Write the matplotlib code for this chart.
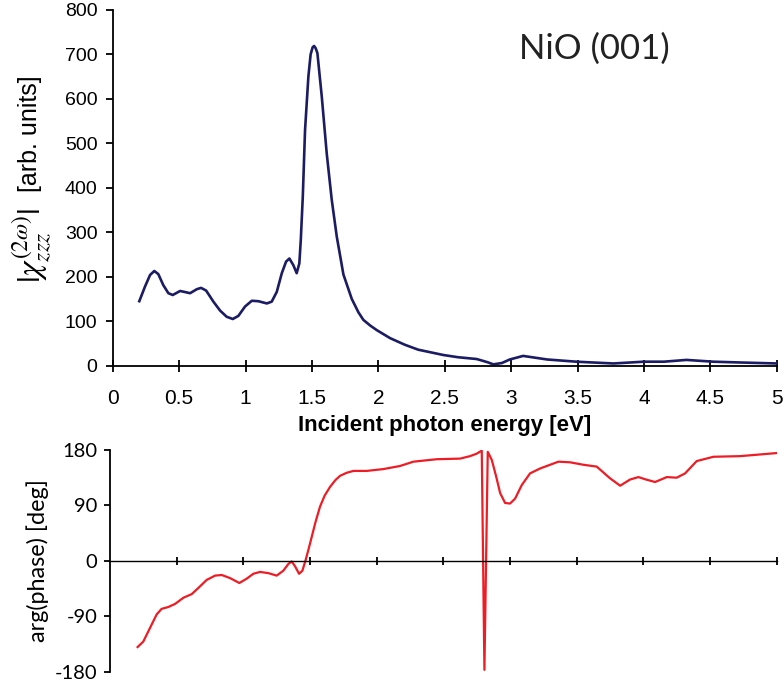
import numpy as np
import matplotlib
matplotlib.use('Agg')
import matplotlib.pyplot as plt

plt.rcParams['font.family'] = ['Liberation Sans', 'DejaVu Sans']
plt.rcParams['mathtext.fontset'] = 'stix'
plt.rcParams['axes.unicode_minus'] = False

# |chi_zzz| spectrum (top panel)
energyTop = [0.20, 0.243, 0.281, 0.313, 0.343, 0.381, 0.419, 0.452, 0.507, 0.539,
             0.582, 0.633, 0.665, 0.703, 0.758, 0.808, 0.858, 0.904, 0.946, 0.996,
             1.047, 1.097, 1.16, 1.197, 1.235, 1.273, 1.305, 1.33, 1.36, 1.385,
             1.405, 1.416, 1.431, 1.448, 1.473, 1.49, 1.505, 1.516, 1.528, 1.541,
             1.574, 1.611, 1.649, 1.687, 1.737, 1.80, 1.85, 1.887, 1.94, 1.988,
             2.088, 2.2, 2.3, 2.49, 2.6, 2.74, 2.82, 2.866, 2.93, 2.99,
             3.09, 3.18, 3.27, 3.49, 3.77, 4.0, 4.15, 4.32, 4.52, 4.75, 5.0]
chiAbs = [145, 178, 204, 213, 206, 181, 163, 159, 168, 166,
          163, 172, 175, 169, 144, 124, 110, 105, 112, 133,
          146, 145, 140, 144, 166, 208, 234, 241, 226, 208,
          230, 283, 380, 530, 650, 700, 716, 719, 714, 703,
          605, 478, 373, 290, 205, 150, 120, 103, 90, 80,
          62, 47, 36, 24, 19, 15, 8, 3, 6, 14,
          22, 18, 14, 9, 5, 9, 9, 13, 9, 7, 5]

# phase spectrum (bottom panel)
energyBot = [0.207, 0.25, 0.30, 0.35, 0.387, 0.437, 0.488, 0.55, 0.613, 0.663,
             0.725, 0.788, 0.838, 0.90, 0.97, 1.025, 1.075, 1.125, 1.188, 1.25,
             1.30, 1.338, 1.363, 1.388, 1.418, 1.443, 1.468, 1.488, 1.513, 1.54,
             1.575, 1.61, 1.65, 1.69, 1.725, 1.775, 1.825, 1.925, 2.05, 2.175,
             2.275, 2.45, 2.626, 2.70, 2.75, 2.788, 2.808, 2.833, 2.863, 2.896,
             2.926, 2.963, 3.0, 3.038, 3.088, 3.15, 3.226, 3.363, 3.45, 3.55,
             3.65, 3.75, 3.826, 3.90, 3.963, 4.02, 4.088, 4.176, 4.25, 4.313,
             4.4, 4.526, 4.726, 5.0]
phaseDeg = [-140, -131, -109, -87, -78, -75, -70, -60, -54, -44,
            -31, -24, -23, -28, -36, -29, -21, -18, -20, -24,
            -16, -5, -1, -9, -21, -16, 2, 18, 39, 62,
            88, 106, 120, 131, 138, 143, 146, 146, 149, 154,
            161, 165, 166, 170, 174, 179, -177, 177, 164, 137,
            110, 94, 93, 101, 123, 142, 150, 161, 160, 156,
            153, 134, 122, 132, 136, 132, 128, 136, 135, 142,
            162, 169, 170, 175]

xTicks = [0, 0.5, 1, 1.5, 2, 2.5, 3, 3.5, 4, 4.5, 5]
xTickLabels = ['0', '0.5', '1', '1.5', '2', '2.5', '3', '3.5', '4', '4.5', '5']
yTicksTop = [0, 100, 200, 300, 400, 500, 600, 700, 800]
yTicksBot = [-180, -90, 0, 90, 180]

fig = plt.figure(figsize=(7.84, 6.87), dpi=100)

# top panel
ax1 = fig.add_axes([0.1438, 0.4677, 0.847, 0.5178])
ax1.plot(energyTop, chiAbs, color='#1c1c64', lw=1.9, solid_joinstyle='round')
ax1.set_xlim(0, 5)
ax1.set_ylim(0, 800)
ax1.spines['top'].set_visible(False)
ax1.spines['right'].set_visible(False)
for s in ['left', 'bottom']:
    ax1.spines[s].set_linewidth(1.3)
ax1.set_xticks(xTicks)
ax1.set_xticklabels(xTickLabels)
ax1.set_yticks(yTicksTop)
ax1.tick_params(axis='x', direction='inout', length=9, width=1.3, pad=12, labelsize=15)
ax1.tick_params(axis='y', direction='out', length=5, width=1.3, pad=6, labelsize=14)
ax1.set_xlabel('Incident photon energy [eV]', fontweight='bold', fontsize=16, labelpad=5)
ax1.text(3.63, 712, 'NiO (001)', fontsize=25, family='Lato', color='#222222',
         ha='center', va='center')

# y label of top panel: big chi part and plain text part
fig.text(0.040, 0.643, r'$|\chi^{(2\omega)}_{zzz}|$', fontsize=24, rotation=90,
         ha='center', va='center')
fig.text(0.038, 0.806, '[arb. units]', fontsize=18, rotation=90,
         ha='center', va='center')

# bottom panel
ax2 = fig.add_axes([0.1403, 0.0223, 0.8504, 0.3227])
ax2.plot(energyBot, phaseDeg, color='#ee1c25', lw=1.6, solid_joinstyle='round')
ax2.set_xlim(0, 5)
ax2.set_ylim(-180, 180)
ax2.spines['top'].set_visible(False)
ax2.spines['right'].set_visible(False)
ax2.spines['bottom'].set_position(('data', 0))
ax2.spines['left'].set_linewidth(1.3)
ax2.spines['bottom'].set_linewidth(1.0)
ax2.set_xticks(xTicks[1:])
ax2.set_xticklabels([])
ax2.set_yticks(yTicksBot)
ax2.tick_params(axis='x', direction='inout', length=6, width=1.3)
ax2.tick_params(axis='y', direction='out', length=4, width=1.3, pad=5, labelsize=14.5)
for lab in ax2.get_yticklabels():
    lab.set_family('Lato')
ax2.set_ylabel('arg(phase) [deg]', fontsize=16.8, family='Lato', labelpad=4)

fig.savefig('out.png', dpi=100)
